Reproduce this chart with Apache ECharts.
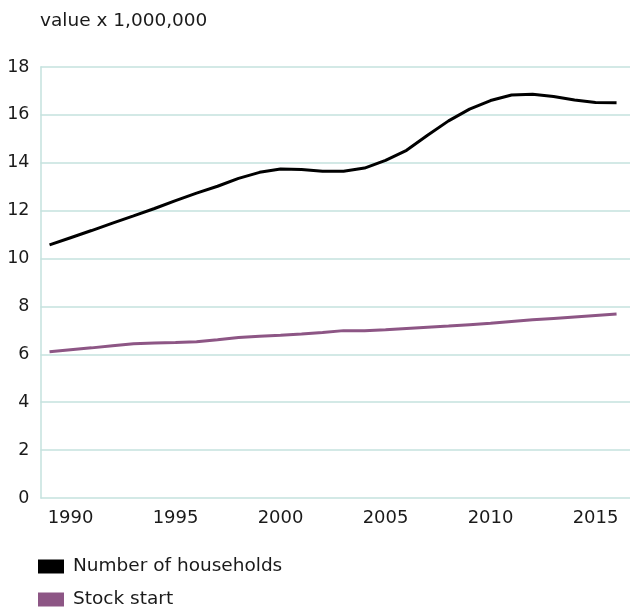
<!DOCTYPE html>
<html>
<head>
<meta charset="utf-8">
<script src="https://cdn.jsdelivr.net/npm/echarts@6/dist/echarts.min.js"></script>
<style>
  html, body { margin: 0; padding: 0; background: #fff; }
  #chart { width: 636px; height: 607px; }
</style>
</head>
<body>
<div id="chart"></div>
<script>
// Yearly series, 1989 - 2016 (values x 1,000,000)
const years = [1989, 1990, 1991, 1992, 1993, 1994, 1995, 1996, 1997, 1998,
               1999, 2000, 2001, 2002, 2003, 2004, 2005, 2006, 2007, 2008,
               2009, 2010, 2011, 2012, 2013, 2014, 2015, 2016];

const households = [10.57, 10.87, 11.17, 11.48, 11.78, 12.09, 12.42, 12.73, 13.02, 13.35,
                    13.60, 13.74, 13.72, 13.65, 13.65, 13.78, 14.10, 14.52, 15.15, 15.75,
                    16.24, 16.60, 16.83, 16.86, 16.77, 16.62, 16.52, 16.51];

const stockStart = [6.11, 6.19, 6.27, 6.36, 6.44, 6.47, 6.49, 6.53, 6.61, 6.70,
                    6.76, 6.80, 6.85, 6.91, 6.99, 6.99, 7.03, 7.08, 7.13, 7.18,
                    7.24, 7.30, 7.37, 7.44, 7.50, 7.56, 7.62, 7.68];

const seriesNames = ['Number of households', 'Stock start'];
const unitLabel = 'value x 1,000,000';

const gridColor = '#c4e2de';
const textColor = '#1a1a1a';
const fontFamily = 'DejaVu Sans, Verdana, sans-serif';

const pairs = vals => years.map((y, i) => [y, vals[i]]);

// One legend row per series, stacked under the plot
const legendRow = (name, top) => ({
  orient: 'horizontal',
  left: 38,
  top: top,
  padding: 0,
  itemWidth: 26,
  itemHeight: 14,
  icon: 'rect',
  textStyle: { fontSize: 18.5, color: textColor, fontFamily: fontFamily, padding: [0, 0, 0, 4] },
  data: [name]
});

const chart = echarts.init(document.getElementById('chart'), null, { renderer: 'canvas' });
chart.setOption({
  animation: false,
  backgroundColor: '#ffffff',
  textStyle: { fontFamily: fontFamily },
  title: {
    text: unitLabel,
    left: 35,
    top: 7,
    textStyle: { fontFamily: fontFamily, fontSize: 18.5, fontWeight: 'normal', color: textColor }
  },
  grid: { left: 40.5, right: 6, top: 67, bottom: 109, containLabel: false },
  xAxis: {
    type: 'value',
    min: 1988.57,
    max: 2016.64,
    minInterval: 5,
    maxInterval: 5,
    axisLine: { show: false },
    axisTick: { show: false },
    splitLine: { show: false },
    axisLabel: {
      margin: 11,
      fontSize: 18,
      color: textColor,
      fontFamily: fontFamily,
      formatter: v => (Math.abs(v % 5) < 1e-6 ? String(Math.round(v)) : '')
    }
  },
  yAxis: {
    type: 'value',
    min: 0,
    max: 18,
    interval: 2,
    axisLine: { show: true, lineStyle: { color: gridColor, width: 1.5 } },
    axisTick: { show: false },
    splitLine: { show: true, lineStyle: { color: gridColor, width: 1.5 } },
    axisLabel: { margin: 11, fontSize: 17.5, color: textColor, fontFamily: fontFamily }
  },
  legend: [legendRow(seriesNames[0], 557), legendRow(seriesNames[1], 590)],
  series: [
    {
      name: seriesNames[0],
      type: 'line',
      data: pairs(households),
      symbol: 'none',
      color: '#000000',
      lineStyle: { width: 3, color: '#000000' }
    },
    {
      name: seriesNames[1],
      type: 'line',
      data: pairs(stockStart),
      symbol: 'none',
      color: '#8d5685',
      lineStyle: { width: 3, color: '#8d5685' }
    }
  ]
});
</script>
</body>
</html>
